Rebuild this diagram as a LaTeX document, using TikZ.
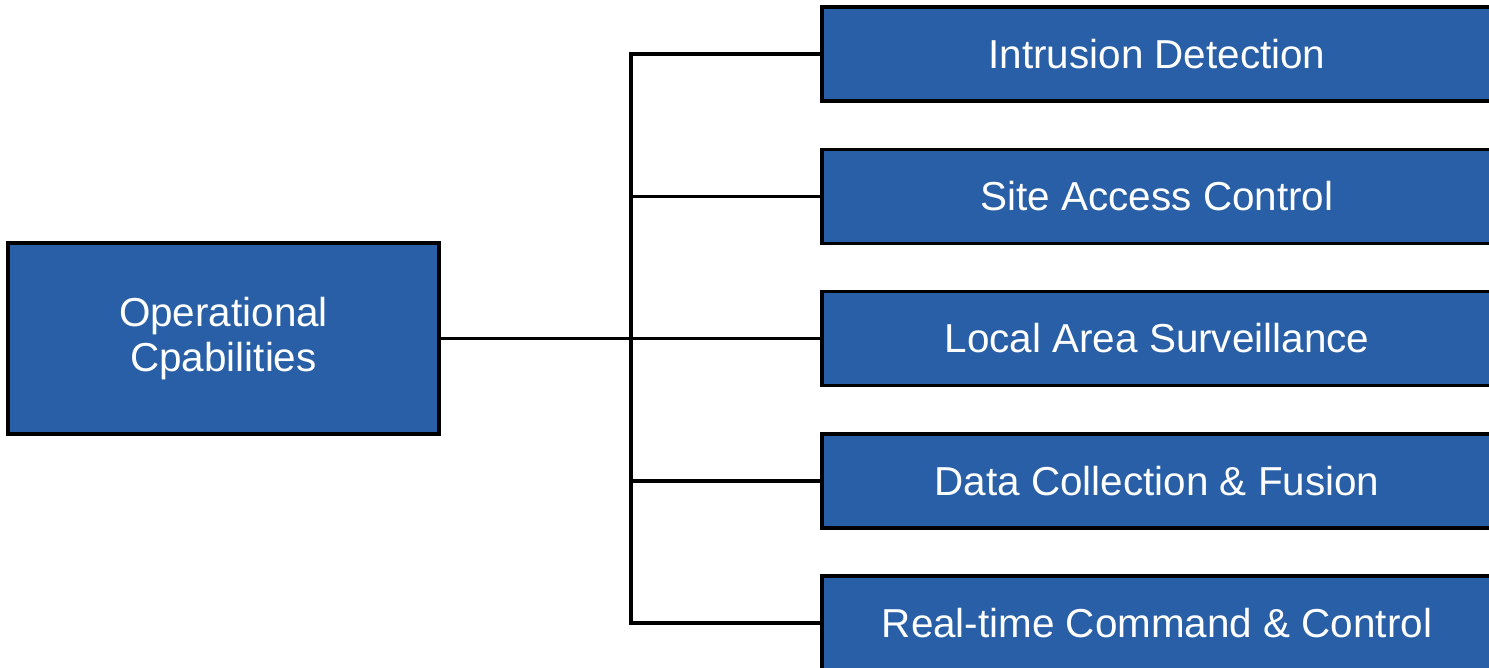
\documentclass[tikz,border=0pt]{standalone}
\usepackage{fontspec}
\setmainfont{Liberation Sans}
\usetikzlibrary{positioning}

\definecolor{capblue}{RGB}{41,95,166}

\tikzset{
  capbox/.style={draw=black, fill=capblue, text=white, line width=1.1pt,
    inner sep=0pt, font=\fontsize{11.5}{13}\selectfont, align=center},
  leafbox/.style={capbox, minimum width=6.70cm, minimum height=0.94cm},
  branch/.style={draw=black, line width=0.9pt}
}

\begin{document}
\begin{tikzpicture}

\useasboundingbox (0,0) rectangle (14.89,-6.68);

\node [capbox, minimum width=4.31cm, minimum height=1.91cm] (ops) at (2.235,-3.385) {Operational\\Cpabilities};

\node [leafbox] (intr) at (11.57,-0.54) {Intrusion Detection};
\node [leafbox] (site) at (11.57,-1.965) {Site Access Control};
\node [leafbox] (local) at (11.57,-3.385) {Local Area Surveillance};
\node [leafbox] (data) at (11.57,-4.81) {Data Collection \& Fusion};
\node [leafbox] (rtcc) at (11.57,-6.23) {Real-time Command \& Control};

\coordinate (trunk) at (6.31,-3.385);

% tree connectors
\draw [branch] (ops.east) -- (local.west);
\draw [branch] (intr.west) -| (trunk) |- (rtcc.west);
\draw [branch] (site.west) -- (site.west -| trunk);
\draw [branch] (data.west) -- (data.west -| trunk);

\end{tikzpicture}
\end{document}
